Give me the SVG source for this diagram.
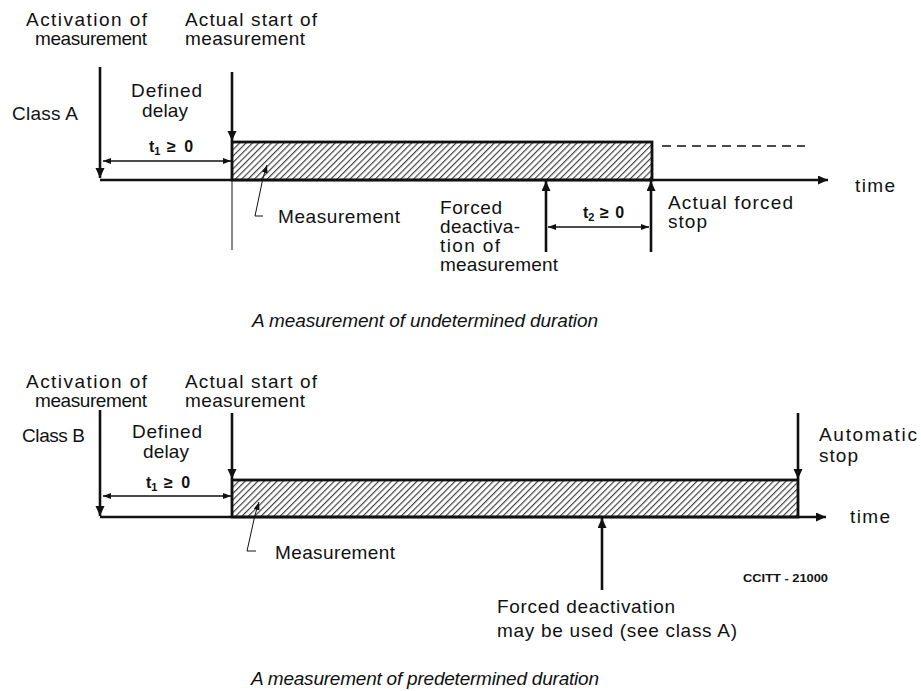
<svg xmlns="http://www.w3.org/2000/svg" width="921" height="691" viewBox="0 0 921 691">
<style>
text{font-family:"Liberation Sans",Arial,sans-serif;font-size:19px;fill:#111}
.cap{font-style:italic;font-size:19px}
.dim{font-size:16px;font-weight:bold}
.small{font-size:11px;font-weight:bold}
.thick{stroke:#111;stroke-width:2.6;fill:none}
.thin{stroke:#111;stroke-width:1.3;fill:none}
.hair{stroke:#111;stroke-width:1;fill:none}
.bar{fill:url(#hatch);stroke:#111;stroke-width:2.8}
</style>
<defs>
<pattern id="hatch" width="4.5" height="10" patternUnits="userSpaceOnUse" patternTransform="rotate(45)">
<rect width="4.5" height="10" fill="#fff"/>
<line x1="0.6" y1="0" x2="0.6" y2="10" stroke="#333" stroke-width="1.1"/>
</pattern>
<marker id="ah" markerUnits="userSpaceOnUse" markerWidth="11" markerHeight="10" refX="10" refY="4.5" orient="auto">
<path d="M0,0 L10,4.5 L0,9 z" fill="#111"/>
</marker>
<marker id="ahs" markerUnits="userSpaceOnUse" markerWidth="9" markerHeight="7" refX="8" refY="3" orient="auto-start-reverse">
<path d="M0,0 L8,3 L0,6 z" fill="#111"/>
</marker>
</defs>

<!-- ===== Class A ===== -->
<g id="classA-bar"><rect class="bar" x="232" y="142" width="420" height="38"/></g>
<g id="classA-labels">
<text x="26" y="26" textLength="121" lengthAdjust="spacing">Activation of</text>
<text x="35" y="45" textLength="112" lengthAdjust="spacing">measurement</text>
<text x="185" y="26" textLength="132" lengthAdjust="spacing">Actual start of</text>
<text x="185" y="45" textLength="120" lengthAdjust="spacing">measurement</text>
<text x="12" y="120" textLength="66" lengthAdjust="spacing">Class A</text>
<text x="131" y="97" textLength="71" lengthAdjust="spacing">Defined</text>
<text x="142" y="117" textLength="46" lengthAdjust="spacing">delay</text>
<text class="dim" x="149" y="152">t<tspan font-size="11" dy="3">1</tspan><tspan dy="-3" letter-spacing="2"> ≥ 0</tspan></text>
<text x="278" y="223" textLength="122" lengthAdjust="spacing">Measurement</text>
<text x="440" y="214" textLength="62" lengthAdjust="spacing">Forced</text>
<text x="440" y="233" textLength="80" lengthAdjust="spacing">deactiva-</text>
<text x="440" y="252" textLength="60" lengthAdjust="spacing">tion of</text>
<text x="440" y="271" textLength="118" lengthAdjust="spacing">measurement</text>
<text class="dim" x="583" y="218">t<tspan font-size="11" dy="3">2</tspan><tspan dy="-3" letter-spacing="1"> ≥ 0</tspan></text>
<text x="668" y="209" textLength="125" lengthAdjust="spacing">Actual forced</text>
<text x="668" y="228" textLength="39" lengthAdjust="spacing">stop</text>
<text x="855" y="192" textLength="40" lengthAdjust="spacing">time</text>
<text class="cap" x="425" y="327" text-anchor="middle" textLength="346" lengthAdjust="spacing">A measurement of undetermined duration</text>
</g>
<g id="classA-connectors">
<line class="thick" x1="100" y1="67" x2="100" y2="178" marker-end="url(#ah)"/>
<line class="thick" x1="232" y1="72" x2="232" y2="141" marker-end="url(#ah)"/>
<line class="thick" x1="100" y1="180" x2="828" y2="180" marker-end="url(#ah)"/>
<line class="thin" x1="103" y1="161" x2="231" y2="161" marker-start="url(#ahs)" marker-end="url(#ahs)"/>
<line class="hair" x1="232" y1="181" x2="232" y2="250"/>
<line class="thin" x1="662" y1="146" x2="805" y2="146" stroke-dasharray="9 6"/>
<polyline class="hair" points="263,178 255,216 263,216"/>
<line class="hair" x1="263" y1="178" x2="267" y2="165" marker-end="url(#ahs)"/>
<line class="thick" x1="546" y1="252" x2="546" y2="181" marker-end="url(#ah)"/>
<line class="thick" x1="651" y1="252" x2="651" y2="181" marker-end="url(#ah)"/>
<line class="thin" x1="548" y1="227" x2="649" y2="227" marker-start="url(#ahs)" marker-end="url(#ahs)"/>
</g>

<!-- ===== Class B ===== -->
<g id="classB-bar"><rect class="bar" x="232" y="480" width="566" height="37"/></g>
<g id="classB-labels">
<text x="26" y="388" textLength="121" lengthAdjust="spacing">Activation of</text>
<text x="35" y="407" textLength="112" lengthAdjust="spacing">measurement</text>
<text x="185" y="388" textLength="132" lengthAdjust="spacing">Actual start of</text>
<text x="185" y="407" textLength="120" lengthAdjust="spacing">measurement</text>
<text x="22" y="442" textLength="63" lengthAdjust="spacing">Class B</text>
<text x="132" y="438" textLength="70" lengthAdjust="spacing">Defined</text>
<text x="143" y="458" textLength="46" lengthAdjust="spacing">delay</text>
<text class="dim" x="146" y="488">t<tspan font-size="11" dy="3">1</tspan><tspan dy="-3" letter-spacing="2"> ≥ 0</tspan></text>
<text x="275" y="559" textLength="120" lengthAdjust="spacing">Measurement</text>
<text x="819" y="441" textLength="98" lengthAdjust="spacing">Automatic</text>
<text x="819" y="462" textLength="39" lengthAdjust="spacing">stop</text>
<text x="850" y="523" textLength="40" lengthAdjust="spacing">time</text>
<text x="497" y="613" textLength="178" lengthAdjust="spacing">Forced deactivation</text>
<text x="497" y="637" textLength="240" lengthAdjust="spacing">may be used (see class A)</text>
<text class="small" x="743" y="582" textLength="85" lengthAdjust="spacingAndGlyphs">CCITT - 21000</text>
<text class="cap" x="425" y="685" text-anchor="middle" textLength="348" lengthAdjust="spacing">A measurement of predetermined duration</text>
</g>
<g id="classB-connectors">
<line class="thick" x1="100" y1="410" x2="100" y2="516" marker-end="url(#ah)"/>
<line class="thick" x1="232" y1="413" x2="232" y2="479" marker-end="url(#ah)"/>
<line class="thick" x1="798" y1="413" x2="798" y2="479" marker-end="url(#ah)"/>
<line class="thick" x1="100" y1="517" x2="826" y2="517" marker-end="url(#ah)"/>
<line class="thin" x1="103" y1="496" x2="231" y2="496" marker-start="url(#ahs)" marker-end="url(#ahs)"/>
<polyline class="hair" points="255,515 247,551 256,551"/>
<line class="hair" x1="255" y1="515" x2="259" y2="502" marker-end="url(#ahs)"/>
<line class="thick" x1="602" y1="590" x2="602" y2="518" marker-end="url(#ah)"/>
</g>
</svg>
